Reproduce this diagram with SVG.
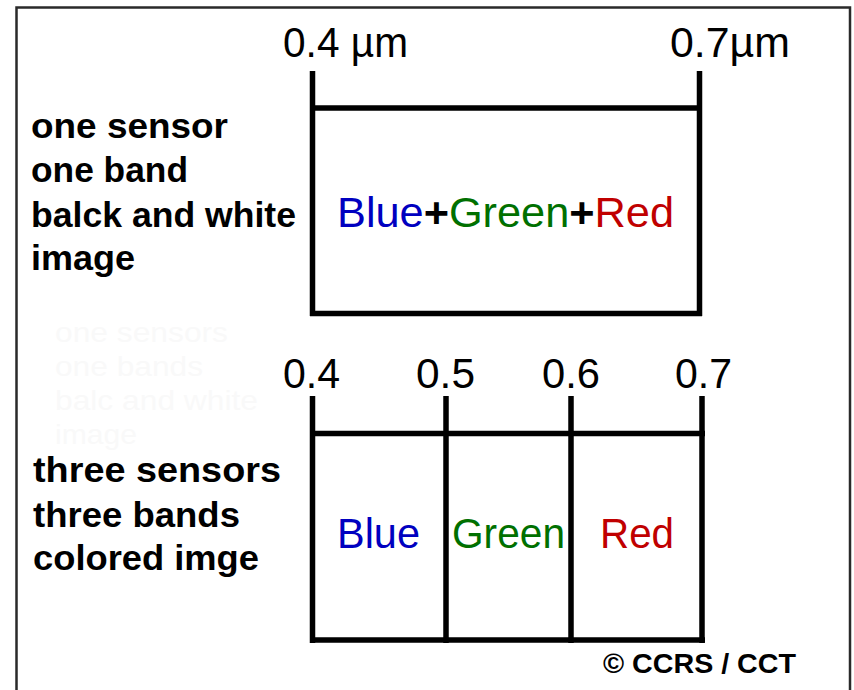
<svg xmlns="http://www.w3.org/2000/svg" width="854" height="690" viewBox="0 0 854 690">
<style>
.frame{fill:none;stroke:#2a2a2a;stroke-width:2.5}
.ln{stroke:#000;stroke-width:5.5;fill:none;stroke-linecap:butt}
.lbl{font-family:"Liberation Sans",Arial,sans-serif;font-weight:bold;font-size:35px;fill:#000}
.tick{font-family:"Liberation Sans",Arial,sans-serif;font-size:42px;fill:#000}
.band{font-family:"Liberation Sans",Arial,sans-serif;font-size:42px}
.ghost{font-family:"Liberation Sans",Arial,sans-serif;font-size:28px;fill:#f9f9f9}
.b{fill:#0000c0}.g{fill:#007000}.r{fill:#c00000}.p{fill:#000;font-weight:bold}
.copy{font-family:"Liberation Sans",Arial,sans-serif;font-weight:bold;font-size:28px;fill:#000}
</style>
<rect width="854" height="690" fill="#fff"/>
<rect class="frame" x="16.5" y="7.5" width="833.5" height="700"/>
<g id="ghost-text">
<text class="ghost" x="55" y="342" textLength="173" lengthAdjust="spacingAndGlyphs">one sensors</text>
<text class="ghost" x="55" y="376" textLength="148" lengthAdjust="spacingAndGlyphs">one bands</text>
<text class="ghost" x="55" y="410" textLength="203" lengthAdjust="spacingAndGlyphs">balc and white</text>
<text class="ghost" x="55" y="444" textLength="82" lengthAdjust="spacingAndGlyphs">image</text>
</g>
<g id="top-labels">
<text class="lbl" x="31" y="138" textLength="197" lengthAdjust="spacingAndGlyphs">one sensor</text>
<text class="lbl" x="31" y="182" textLength="157" lengthAdjust="spacingAndGlyphs">one band</text>
<text class="lbl" x="31" y="227" textLength="265" lengthAdjust="spacingAndGlyphs">balck and white</text>
<text class="lbl" x="31" y="270" textLength="104" lengthAdjust="spacingAndGlyphs">image</text>
</g>
<g id="bottom-labels">
<text class="lbl" x="33" y="482" textLength="248" lengthAdjust="spacingAndGlyphs">three sensors</text>
<text class="lbl" x="33" y="527" textLength="207" lengthAdjust="spacingAndGlyphs">three bands</text>
<text class="lbl" x="33" y="570" textLength="226" lengthAdjust="spacingAndGlyphs">colored imge</text>
</g>
<g id="top-box">
<path class="ln" d="M312.5 71V316M699.5 71V316M310 108H702M310 313.5H702"/>
<text class="tick" x="283" y="57" textLength="125" lengthAdjust="spacingAndGlyphs">0.4 µm</text>
<text class="tick" x="670" y="57" textLength="120" lengthAdjust="spacingAndGlyphs">0.7µm</text>
<text class="band" x="337" y="227" textLength="337" lengthAdjust="spacingAndGlyphs"><tspan class="b">Blue</tspan><tspan class="p">+</tspan><tspan class="g">Green</tspan><tspan class="p">+</tspan><tspan class="r">Red</tspan></text>
</g>
<g id="bottom-box">
<path class="ln" d="M312.5 396V643M446 396V643M571 396V643M702 396V643M310 433.5H705M310 640H705"/>
<text class="tick" x="283" y="388" textLength="57" lengthAdjust="spacingAndGlyphs">0.4</text>
<text class="tick" x="416" y="388" textLength="59" lengthAdjust="spacingAndGlyphs">0.5</text>
<text class="tick" x="542" y="388" textLength="58" lengthAdjust="spacingAndGlyphs">0.6</text>
<text class="tick" x="675" y="388" textLength="57" lengthAdjust="spacingAndGlyphs">0.7</text>
<text class="band b" x="337" y="548" textLength="83" lengthAdjust="spacingAndGlyphs">Blue</text>
<text class="band g" x="452" y="548" textLength="113" lengthAdjust="spacingAndGlyphs">Green</text>
<text class="band r" x="600" y="548" textLength="74" lengthAdjust="spacingAndGlyphs">Red</text>
</g>
<g id="credit">
<text class="copy" x="603" y="673" textLength="193" lengthAdjust="spacingAndGlyphs">© CCRS / CCT</text>
</g>
</svg>
